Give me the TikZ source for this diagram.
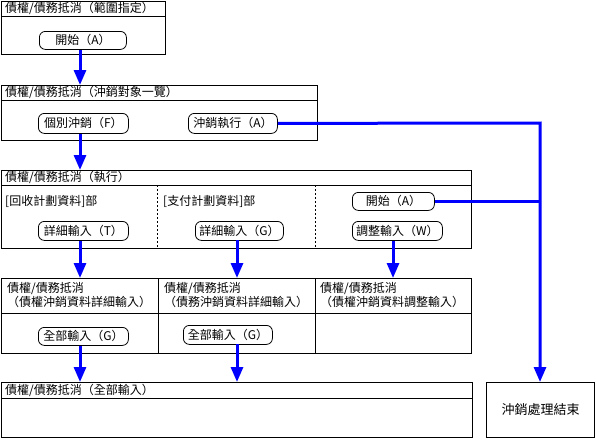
\documentclass[tikz,border=0pt]{standalone}
\usepackage{fontspec}
\setmainfont{Noto Sans CJK TC}
\usetikzlibrary{arrows.meta,calc}
\begin{document}
\begin{tikzpicture}[x=1pt,y=-1pt,
  font=\fontsize{12}{14}\selectfont,
  box/.style={draw=black,line width=1pt,anchor=north west,inner sep=0pt},
  btn/.style={draw=black,line width=0.8pt,rounded corners=6pt,inner sep=0pt,anchor=north west},
  ttl/.style={anchor=west,inner sep=0pt},
  sep/.style={draw=black,line width=1pt},
  dsep/.style={draw=black,line width=0.8pt,dash pattern=on 2pt off 2pt},
  flow/.style={draw={rgb,255:red,0;green,0;blue,255},line width=3pt,-{Triangle[length=15pt,width=12pt]}},
  link/.style={draw={rgb,255:red,0;green,0;blue,255},line width=3pt}]
\useasboundingbox (0,0) rectangle (596,439);
% Box 1
\node[box,minimum width=164,minimum height=53] (box1) at (1,1) {};
\draw[sep] (1,16) -- (165,16);
\node[ttl] (t1) at (5,8.5) {債權/債務抵消（範圍指定）};
\node[btn,minimum width=87,minimum height=18] (b1) at (39,31) {開始（A）};
% Box 2
\node[box,minimum width=316,minimum height=55] (box2) at (1,85) {};
\draw[sep] (1,100) -- (317,100);
\node[ttl] (t2) at (5,92.5) {債權/債務抵消（沖銷對象一覽）};
\node[btn,minimum width=90,minimum height=20] (bF) at (38,113) {個別沖銷（F）};
\node[btn,minimum width=89,minimum height=20] (bA) at (188,113) {沖銷執行（A）};
% Box 3
\node[box,minimum width=470,minimum height=78] (box3) at (1,170) {};
\draw[sep] (1,185) -- (471,185);
\node[ttl] (t3) at (5,177.5) {債權/債務抵消（執行）};
\draw[dsep] (157,185) -- (157,248);
\draw[dsep] (315,185) -- (315,248);
\node[ttl] (s1) at (5,201) {[回收計劃資料]部};
\node[ttl] (s2) at (163,201) {[支付計劃資料]部};
\node[btn,minimum width=82,minimum height=18] (bS) at (352,192) {開始（A）};
\node[btn,minimum width=90,minimum height=19] (bT) at (38,221) {詳細輸入（T）};
\node[btn,minimum width=88,minimum height=19] (bG) at (195,221) {詳細輸入（G）};
\node[btn,minimum width=90,minimum height=19] (bW) at (352,221) {調整輸入（W）};
% Box 4
\node[box,minimum width=470,minimum height=75] (box4) at (1,278) {};
\draw[sep] (1,313) -- (471,313);
\draw[sep] (158,278) -- (158,353);
\draw[sep] (315,278) -- (315,353);
\node[anchor=north west,inner sep=0pt,align=left] (c1) at (7,282) {債權/債務抵消\\（債權沖銷資料詳細輸入）};
\node[anchor=north west,inner sep=0pt,align=left] (c2) at (164,282) {債權/債務抵消\\（債務沖銷資料詳細輸入）};
\node[anchor=north west,inner sep=0pt,align=left] (c3) at (320,282) {債權/債務抵消\\（債權沖銷資料調整輸入）};
\node[btn,minimum width=90,minimum height=18] (bG1) at (38,327) {全部輸入（G）};
\node[btn,minimum width=89,minimum height=19] (bG2) at (183,325) {全部輸入（G）};
% Box 5
\node[box,minimum width=471,minimum height=55] (box5) at (1,382) {};
\draw[sep] (1,398) -- (472,398);
\node[ttl] (t5) at (5,390) {債權/債務抵消（全部輸入）};
% End box
\node[box,minimum width=108,minimum height=55,font=\fontsize{13}{15}\selectfont] (endb) at (486,382) {沖銷處理結束};
% Coordinates
\coordinate (j) at (540,123);
\coordinate (g2) at (237,344);
\coordinate (g1) at (237,240);
% Flows
\draw[flow] (b1.south -| 80,0) -- (box2.north -| 80,0);
\draw[flow] (bF.south -| 80,0) -- (box3.north -| 80,0);
\draw[flow] (bT.south -| 80,0) -- (box4.north -| 80,0);
\draw[flow] (g1) -- (box4.north -| g1);
\draw[flow] (bW.south -| 393,0) -- (box4.north -| 393,0);
\draw[flow] (bG1.south -| 80,0) -- (box5.north -| 80,0);
\draw[flow] (g2) -- (box5.north -| g2);
\draw[flow] (bA.east) -- (j) -- (endb.north -| j);
\draw[link] (bS.east) -- (bS.east -| j);
\end{tikzpicture}
\end{document}
